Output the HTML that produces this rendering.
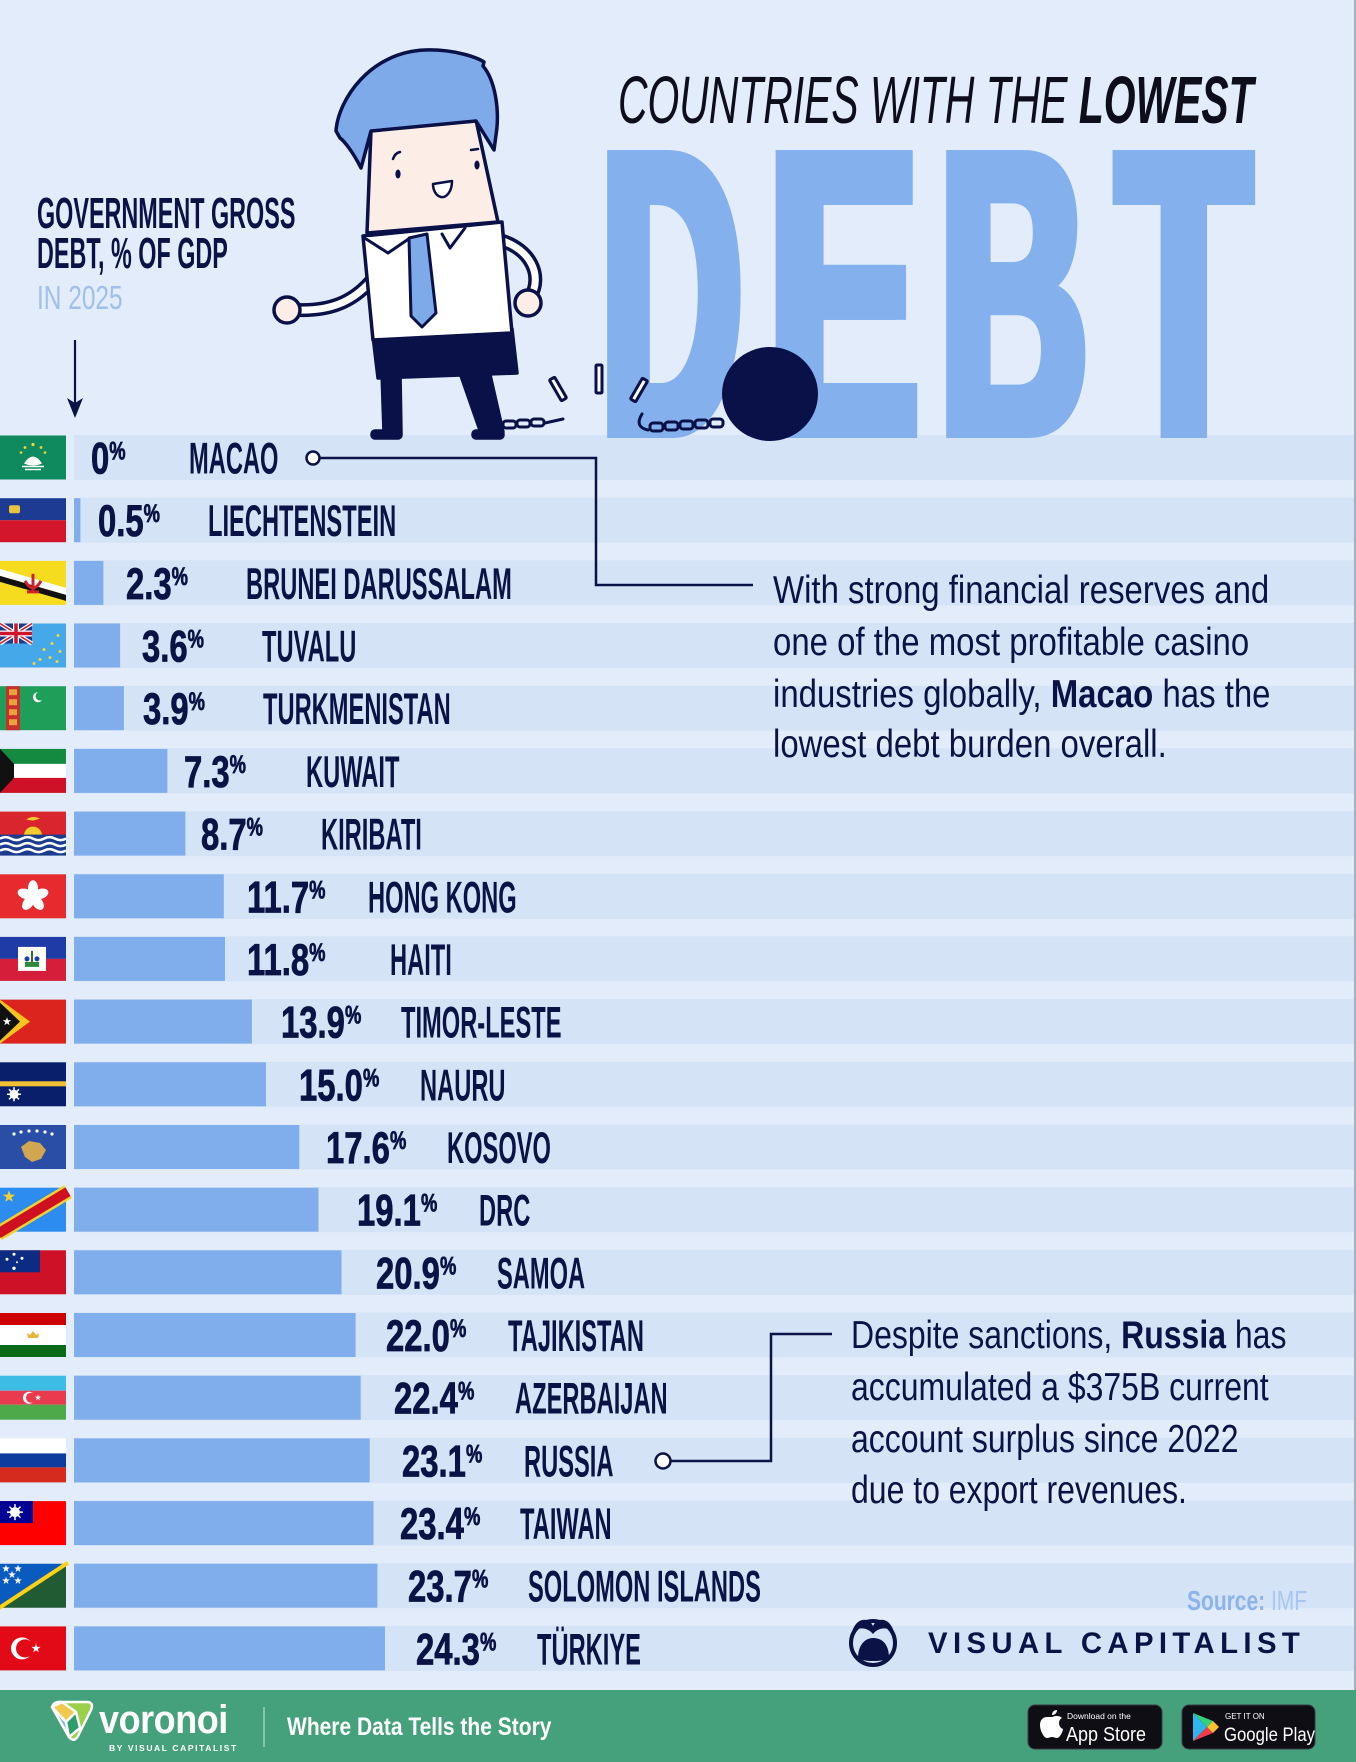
<!DOCTYPE html>
<html><head><meta charset="utf-8"><style>
html,body{margin:0;padding:0;background:#e2ecfa;}
svg{display:block;}
text{font-family:"Liberation Sans",sans-serif;}
.v{font-size:44.7px;font-weight:bold;fill:#0b1245;stroke:#0b1245;stroke-width:0.8px;}
.n{font-size:44.7px;font-weight:bold;fill:#0b1245;}
.a{font-size:39px;fill:#0b1245;}
</style></head><body>
<svg width="1356" height="1762" viewBox="0 0 1356 1762" xmlns="http://www.w3.org/2000/svg">
<defs>
<polygon id="st" points="0,-4 0.94,-1.29 3.8,-1.24 1.52,0.49 2.35,3.24 0,1.6 -2.35,3.24 -1.52,0.49 -3.8,-1.24 -0.94,-1.29"/>
</defs>
<rect width="1356" height="1762" fill="#e2ecfa"/>

<!-- bands -->
<g fill="#d5e3f7">
<rect x="74" y="435" width="1280" height="45"/>
<rect x="74" y="497.7" width="1280" height="45"/>
<rect x="74" y="560.4" width="1280" height="45"/>
<rect x="74" y="623" width="1280" height="45"/>
<rect x="74" y="685.7" width="1280" height="45"/>
<rect x="74" y="748.4" width="1280" height="45"/>
<rect x="74" y="811.1" width="1280" height="45"/>
<rect x="74" y="873.8" width="1280" height="45"/>
<rect x="74" y="936.4" width="1280" height="45"/>
<rect x="74" y="999.1" width="1280" height="45"/>
<rect x="74" y="1061.8" width="1280" height="45"/>
<rect x="74" y="1124.5" width="1280" height="45"/>
<rect x="74" y="1187.2" width="1280" height="45"/>
<rect x="74" y="1249.8" width="1280" height="45"/>
<rect x="74" y="1312.5" width="1280" height="45"/>
<rect x="74" y="1375.2" width="1280" height="45"/>
<rect x="74" y="1437.9" width="1280" height="45"/>
<rect x="74" y="1500.6" width="1280" height="45"/>
<rect x="74" y="1563.2" width="1280" height="45"/>
<rect x="74" y="1625.9" width="1280" height="45"/>
</g>
<rect x="1354" y="0" width="2" height="1690" fill="#a9b0bc"/>

<!-- DEBT -->
<g fill="#85b0ee" stroke="#85b0ee" stroke-width="10" stroke-linejoin="miter" font-size="404" font-weight="bold">
<text transform="translate(596.6,433) scale(0.479,1)">D</text>
<text transform="translate(606.6,433) scale(0.479,1)">D</text>
<text transform="translate(763.4,433) scale(0.556,1)">E</text>
<text transform="translate(773.4,433) scale(0.556,1)">E</text>
<text transform="translate(935.1,433) scale(0.504,1)">B</text>
<text transform="translate(945.1,433) scale(0.504,1)">B</text>
<text transform="translate(1112.8,433) scale(0.535,1)">T</text>
<text transform="translate(1122.8,433) scale(0.535,1)">T</text>
</g>

<!-- Title -->
<text transform="translate(618,123) scale(0.61,1)" font-size="67" font-style="italic" fill="#0d0d1c">COUNTRIES WITH THE <tspan font-weight="bold">LOWEST</tspan></text>

<!-- left label -->
<text transform="translate(37,228) scale(0.54,1)" font-size="43.3" font-weight="bold" fill="#0b1245">GOVERNMENT GROSS</text>
<text transform="translate(37,268) scale(0.54,1)" font-size="43.3" font-weight="bold" fill="#0b1245">DEBT, % OF GDP</text>
<text transform="translate(37,309) scale(0.73,1)" font-size="33.5" fill="#9fbfec">IN 2025</text>
<line x1="75" y1="340" x2="75" y2="405" stroke="#0b1245" stroke-width="2.2"/>
<polygon points="67,398 75,418 83,398 75,403" fill="#0b1245"/>

<!-- character -->
<g stroke="#0a1048" stroke-width="3.5" stroke-linejoin="round" stroke-linecap="round">
<path d="M370,282 C352,302 330,311 298,310" fill="none" stroke-width="14"/>
<path d="M370,282 C352,302 330,311 298,310" fill="none" stroke="#ffffff" stroke-width="7"/>
<path d="M500,240 C532,250 542,276 531,296" fill="none" stroke-width="14"/>
<path d="M500,240 C532,250 542,276 531,296" fill="none" stroke="#ffffff" stroke-width="7"/>
<circle cx="287" cy="310" r="13" fill="#fcede6"/>
<circle cx="528" cy="303" r="13" fill="#fcede6"/>
<polygon points="382,372 400,372 401,433 384,433" fill="#0a1048"/>
<polygon points="459,370 488,366 503,432 481,433" fill="#0a1048"/>
<rect x="372" y="431" width="29" height="7" rx="3" fill="#0a1048"/>
<rect x="473" y="431" width="30" height="7" rx="3" fill="#0a1048"/>
<polygon points="373,336 512,329 517,373 378,378" fill="#0a1048"/>
<polygon points="363,236 502,222 512,333 373,340" fill="#ffffff"/>
<polyline points="363,237 388,253 410,238" fill="#ffffff" stroke-width="3"/>
<polyline points="442,234 450,248 465,228" fill="#ffffff" stroke-width="3"/>
<polygon points="409,238 427,234 436,313 422,327 411,316" fill="#7eaaea" stroke-width="3"/>
<polygon points="371,130 476,120 498,222 367,233" fill="#fcede6"/>
<path d="M336,131 C338,100 370,52 425,50 C455,49 478,58 484,62 L483,66 C495,80 500,110 496,135 L494,150 L476,121 L371,131 L361,168 C352,150 343,140 340,138 Z" fill="#7eaaea"/>
<ellipse cx="398" cy="174" rx="2.6" ry="4.5" fill="#0a1048" stroke="none"/>
<ellipse cx="477" cy="165" rx="2.6" ry="4.5" fill="#0a1048" stroke="none"/>
<path d="M393,159 Q395,153 400,152" fill="none" stroke-width="2.5"/>
<path d="M471,150 L478,149" fill="none" stroke-width="2.5"/>
<path d="M433,184 L452,181 C452,192 446,198 441,197 C436,196 433,190 433,184 Z" fill="#ffffff" stroke-width="2.5"/>
</g>
<g stroke="#0a1048" stroke-width="3" fill="none" stroke-linecap="round">
<rect x="503" y="421" width="13" height="7" rx="3"/>
<rect x="517" y="420" width="13" height="7" rx="3"/>
<rect x="531" y="419" width="13" height="7" rx="3"/>
<path d="M545,423 L563,419"/>
<rect x="555" y="377" width="6" height="24" rx="1" fill="#ffffff" transform="rotate(-30 558 389)"/>
<rect x="596" y="365" width="6" height="28" rx="1" fill="#ffffff"/>
<rect x="636" y="378" width="6" height="24" rx="1" fill="#ffffff" transform="rotate(30 639 390)"/>
<path d="M642,414 Q634,427 648,430"/>
<rect x="650" y="423" width="13" height="8" rx="3"/>
<rect x="665" y="422" width="13" height="8" rx="3"/>
<rect x="680" y="421" width="13" height="8" rx="3"/>
<rect x="695" y="420" width="13" height="8" rx="3"/>
<rect x="710" y="419" width="13" height="8" rx="3"/>
</g>
<ellipse cx="770" cy="394" rx="48" ry="47" fill="#0a1048"/>

<!-- connectors -->
<polyline points="320,458 596,458 596,585 753,585" fill="none" stroke="#0b1245" stroke-width="2.5"/>
<circle cx="313" cy="458" r="6.5" fill="#ffffff" stroke="#0b1245" stroke-width="2.5"/>
<polyline points="671,1461 771,1461 771,1334 832,1334" fill="none" stroke="#0b1245" stroke-width="2.5"/>
<circle cx="663" cy="1461" r="7.5" fill="#ffffff" stroke="#0b1245" stroke-width="2.5"/>

<!-- annotations -->
<text class="a" transform="translate(773,603) scale(0.845,1)">With strong financial reserves and</text>
<text class="a" transform="translate(773,655) scale(0.845,1)">one of the most profitable casino</text>
<text class="a" transform="translate(773,707) scale(0.845,1)">industries globally, <tspan font-weight="bold">Macao</tspan> has the</text>
<text class="a" transform="translate(773,757) scale(0.845,1)">lowest debt burden overall.</text>
<text class="a" transform="translate(851,1348) scale(0.82,1)">Despite sanctions, <tspan font-weight="bold">Russia</tspan> has</text>
<text class="a" transform="translate(851,1400) scale(0.82,1)">accumulated a $375B current</text>
<text class="a" transform="translate(851,1452) scale(0.82,1)">account surplus since 2022</text>
<text class="a" transform="translate(851,1503) scale(0.82,1)">due to export revenues.</text>

<!-- rows -->
<g transform="translate(0,457.5)">
<g transform="translate(0,-22)">
<rect width="66" height="44" fill="#0e8a5e"/>
<path d="M24,28 Q33,14 42,28 Q33,32 24,28Z" fill="#fff"/>
<path d="M22,31 h22 M25,34 h16" stroke="#fff" stroke-width="1.6"/>
<g fill="#f5d33a"><circle cx="33" cy="9" r="1.6"/><circle cx="25" cy="12" r="1.4"/><circle cx="41" cy="12" r="1.4"/><circle cx="21" cy="17" r="1.3"/><circle cx="45" cy="17" r="1.3"/></g>
</g>
<text class="v" transform="translate(91,16) scale(0.735,1)">0<tspan font-size="25" dy="-14">%</tspan></text>
<text class="n" transform="translate(189,16) scale(0.53,1)">MACAO</text>
</g>
<g transform="translate(0,520.2)">
<g transform="translate(0,-22)">
<rect width="66" height="22" fill="#1d3b93"/><rect y="22" width="66" height="22" fill="#d3162b"/><rect x="9" y="7" width="11" height="8" rx="2" fill="#e9c53b"/>
</g>
<rect x="74" y="-22" width="6.4" height="44" fill="#80aeec"/>
<text class="v" transform="translate(98,16) scale(0.735,1)">0.5<tspan font-size="25" dy="-14">%</tspan></text>
<text class="n" transform="translate(208,16) scale(0.53,1)">LIECHTENSTEIN</text>
</g>
<g transform="translate(0,582.9)">
<g transform="translate(0,-22)">
<rect width="66" height="44" fill="#f5dc1e"/><polygon points="0,8 66,27 66,34 0,15" fill="#fff"/><polygon points="0,15 66,34 66,40 0,21" fill="#111"/>
<path d="M25,20 Q33,34 41,20 M33,13 v17 M27,31 h12" stroke="#d0202a" stroke-width="3" fill="none"/>
</g>
<rect x="74" y="-22" width="29.4" height="44" fill="#80aeec"/>
<text class="v" transform="translate(126,16) scale(0.735,1)">2.3<tspan font-size="25" dy="-14">%</tspan></text>
<text class="n" transform="translate(246,16) scale(0.53,1)">BRUNEI DARUSSALAM</text>
</g>
<g transform="translate(0,645.5)">
<g transform="translate(0,-22)">
<rect width="66" height="44" fill="#45a8e8"/>
<rect width="32" height="20" fill="#1f3a8a"/>
<path d="M0,0 L32,20 M32,0 L0,20" stroke="#fff" stroke-width="4"/>
<path d="M0,0 L32,20 M32,0 L0,20" stroke="#cf142b" stroke-width="1.5"/>
<path d="M16,0 V20 M0,10 H32" stroke="#fff" stroke-width="6"/>
<path d="M16,0 V20 M0,10 H32" stroke="#cf142b" stroke-width="3.5"/>
<g fill="#f5d33a"><circle cx="44" cy="26" r="1.5"/><circle cx="52" cy="20" r="1.5"/><circle cx="58" cy="12" r="1.5"/><circle cx="60" cy="28" r="1.5"/><circle cx="40" cy="36" r="1.5"/><circle cx="50" cy="34" r="1.5"/><circle cx="57" cy="38" r="1.5"/><circle cx="34" cy="40" r="1.5"/></g>
</g>
<rect x="74" y="-22" width="46.1" height="44" fill="#80aeec"/>
<text class="v" transform="translate(142,16) scale(0.735,1)">3.6<tspan font-size="25" dy="-14">%</tspan></text>
<text class="n" transform="translate(262,16) scale(0.53,1)">TUVALU</text>
</g>
<g transform="translate(0,708.2)">
<g transform="translate(0,-22)">
<rect width="66" height="44" fill="#1f9e5a"/><rect x="6" width="14" height="44" fill="#c8302e"/>
<g fill="#e8a33a"><rect x="9" y="3" width="8" height="6"/><rect x="9" y="13" width="8" height="6"/><rect x="9" y="23" width="8" height="6"/><rect x="9" y="33" width="8" height="6"/></g>
<circle cx="38" cy="11" r="5" fill="#fff"/><circle cx="40" cy="10" r="4.4" fill="#1f9e5a"/>
</g>
<rect x="74" y="-22" width="49.9" height="44" fill="#80aeec"/>
<text class="v" transform="translate(143,16) scale(0.735,1)">3.9<tspan font-size="25" dy="-14">%</tspan></text>
<text class="n" transform="translate(263,16) scale(0.53,1)">TURKMENISTAN</text>
</g>
<g transform="translate(0,770.9)">
<g transform="translate(0,-22)">
<rect width="66" height="15" fill="#138a3f"/><rect y="15" width="66" height="14" fill="#fff"/><rect y="29" width="66" height="15" fill="#ce1126"/><polygon points="0,0 14,15 14,29 0,44" fill="#111"/>
</g>
<rect x="74" y="-22" width="93.4" height="44" fill="#80aeec"/>
<text class="v" transform="translate(184,16) scale(0.735,1)">7.3<tspan font-size="25" dy="-14">%</tspan></text>
<text class="n" transform="translate(306,16) scale(0.53,1)">KUWAIT</text>
</g>
<g transform="translate(0,833.6)">
<g transform="translate(0,-22)">
<rect width="66" height="24" fill="#d9262e"/><circle cx="33" cy="24" r="9" fill="#f6cc2a"/>
<path d="M26,8 Q33,3 40,7 L33,9Z" fill="#f6cc2a"/>
<rect y="23" width="66" height="21" fill="#1b3c8c"/>
<path d="M0,27 q5.5,-3 11,0 t11,0 t11,0 t11,0 t11,0 t11,0 M0,33 q5.5,-3 11,0 t11,0 t11,0 t11,0 t11,0 t11,0 M0,39 q5.5,-3 11,0 t11,0 t11,0 t11,0 t11,0 t11,0" stroke="#fff" stroke-width="2.5" fill="none"/>
</g>
<rect x="74" y="-22" width="111.4" height="44" fill="#80aeec"/>
<text class="v" transform="translate(201,16) scale(0.735,1)">8.7<tspan font-size="25" dy="-14">%</tspan></text>
<text class="n" transform="translate(321,16) scale(0.53,1)">KIRIBATI</text>
</g>
<g transform="translate(0,896.3)">
<g transform="translate(0,-22)">
<rect width="66" height="44" fill="#e62a2e"/>
<g transform="translate(33,22)" fill="#fff">
<ellipse cx="0" cy="-8" rx="5" ry="8"/>
<ellipse cx="0" cy="-8" rx="5" ry="8" transform="rotate(72)"/>
<ellipse cx="0" cy="-8" rx="5" ry="8" transform="rotate(144)"/>
<ellipse cx="0" cy="-8" rx="5" ry="8" transform="rotate(216)"/>
<ellipse cx="0" cy="-8" rx="5" ry="8" transform="rotate(288)"/>
</g>
</g>
<rect x="74" y="-22" width="149.8" height="44" fill="#80aeec"/>
<text class="v" transform="translate(247,16) scale(0.735,1)">11.7<tspan font-size="25" dy="-14">%</tspan></text>
<text class="n" transform="translate(368,16) scale(0.53,1)">HONG KONG</text>
</g>
<g transform="translate(0,958.9)">
<g transform="translate(0,-22)">
<rect width="66" height="22" fill="#1e3ba6"/><rect y="22" width="66" height="22" fill="#d41e3a"/><rect x="18" y="10" width="28" height="24" fill="#fff"/>
<rect x="25" y="25" width="14" height="5" fill="#2f8a3a"/><rect x="31" y="14" width="2" height="11" fill="#2f6a2a"/><circle cx="27" cy="22" r="2.5" fill="#1e3ba6"/><circle cx="37" cy="22" r="2.5" fill="#1e3ba6"/>
</g>
<rect x="74" y="-22" width="151" height="44" fill="#80aeec"/>
<text class="v" transform="translate(247,16) scale(0.735,1)">11.8<tspan font-size="25" dy="-14">%</tspan></text>
<text class="n" transform="translate(390,16) scale(0.53,1)">HAITI</text>
</g>
<g transform="translate(0,1021.6)">
<g transform="translate(0,-22)">
<rect width="66" height="44" fill="#dc241f"/><polygon points="0,0 30,22 0,44" fill="#f5c51b"/><polygon points="0,3 20,22 0,41" fill="#111"/>
<use href="#st" transform="translate(7,22) scale(1.1)" fill="#fff"/>
</g>
<rect x="74" y="-22" width="177.9" height="44" fill="#80aeec"/>
<text class="v" transform="translate(281,16) scale(0.735,1)">13.9<tspan font-size="25" dy="-14">%</tspan></text>
<text class="n" transform="translate(401,16) scale(0.53,1)">TIMOR-LESTE</text>
</g>
<g transform="translate(0,1084.3)">
<g transform="translate(0,-22)">
<rect width="66" height="44" fill="#0a1f6b"/><rect y="19" width="66" height="5" fill="#f2c033"/>
<circle cx="14" cy="32" r="4.5" fill="#fff"/>
<path d="M14,25 V39 M7,32 H21 M9,27 L19,37 M19,27 L9,37" stroke="#fff" stroke-width="1.5"/>
</g>
<rect x="74" y="-22" width="192" height="44" fill="#80aeec"/>
<text class="v" transform="translate(299,16) scale(0.735,1)">15.0<tspan font-size="25" dy="-14">%</tspan></text>
<text class="n" transform="translate(420,16) scale(0.53,1)">NAURU</text>
</g>
<g transform="translate(0,1147)">
<g transform="translate(0,-22)">
<rect width="66" height="44" fill="#2a4ea6"/>
<path d="M21,22 L29,16 L40,18 L46,25 L41,34 L32,37 L25,32 Z" fill="#d0a650"/>
<g fill="#fff"><circle cx="14" cy="9" r="1.6"/><circle cx="21" cy="7" r="1.6"/><circle cx="29" cy="6" r="1.6"/><circle cx="37" cy="6" r="1.6"/><circle cx="45" cy="7" r="1.6"/><circle cx="52" cy="9" r="1.6"/></g>
</g>
<rect x="74" y="-22" width="225.3" height="44" fill="#80aeec"/>
<text class="v" transform="translate(326,16) scale(0.735,1)">17.6<tspan font-size="25" dy="-14">%</tspan></text>
<text class="n" transform="translate(447,16) scale(0.53,1)">KOSOVO</text>
</g>
<g transform="translate(0,1209.7)">
<g transform="translate(0,-22)">
<rect width="66" height="44" fill="#2d8cf0"/>
<path d="M-2,46 L68,4" stroke="#f5d130" stroke-width="15"/>
<path d="M-2,46 L68,4" stroke="#ce1021" stroke-width="10"/>
<use href="#st" transform="translate(9,9) scale(1.6)" fill="#f5d130"/>
</g>
<rect x="74" y="-22" width="244.5" height="44" fill="#80aeec"/>
<text class="v" transform="translate(357,16) scale(0.735,1)">19.1<tspan font-size="25" dy="-14">%</tspan></text>
<text class="n" transform="translate(479,16) scale(0.53,1)">DRC</text>
</g>
<g transform="translate(0,1272.3)">
<g transform="translate(0,-22)">
<rect width="66" height="44" fill="#ce1126"/><rect width="40" height="22" fill="#0c2c84"/>
<g fill="#fff"><circle cx="14" cy="4" r="1.5"/><circle cx="7" cy="9" r="1.5"/><circle cx="22" cy="8" r="1.5"/><circle cx="17" cy="12" r="1"/><circle cx="14" cy="18" r="1.7"/></g>
</g>
<rect x="74" y="-22" width="267.5" height="44" fill="#80aeec"/>
<text class="v" transform="translate(376,16) scale(0.735,1)">20.9<tspan font-size="25" dy="-14">%</tspan></text>
<text class="n" transform="translate(497,16) scale(0.53,1)">SAMOA</text>
</g>
<g transform="translate(0,1335)">
<g transform="translate(0,-22)">
<rect width="66" height="12" fill="#cc0000"/><rect y="12" width="66" height="20" fill="#fff"/><rect y="32" width="66" height="12" fill="#0a6a1a"/>
<path d="M28,25 h10 l1,-5 l-3,2 l-3,-4 l-3,4 l-3,-2 z" fill="#e7b53a"/>
</g>
<rect x="74" y="-22" width="281.6" height="44" fill="#80aeec"/>
<text class="v" transform="translate(386,16) scale(0.735,1)">22.0<tspan font-size="25" dy="-14">%</tspan></text>
<text class="n" transform="translate(508,16) scale(0.53,1)">TAJIKISTAN</text>
</g>
<g transform="translate(0,1397.7)">
<g transform="translate(0,-22)">
<rect width="66" height="15" fill="#3dbde6"/><rect y="15" width="66" height="14" fill="#e93a4e"/><rect y="29" width="66" height="15" fill="#4da94a"/>
<circle cx="29" cy="22" r="6" fill="#fff"/><circle cx="31" cy="22" r="5" fill="#e93a4e"/>
<use href="#st" transform="translate(38,22) scale(0.8)" fill="#fff"/>
</g>
<rect x="74" y="-22" width="286.7" height="44" fill="#80aeec"/>
<text class="v" transform="translate(394,16) scale(0.735,1)">22.4<tspan font-size="25" dy="-14">%</tspan></text>
<text class="n" transform="translate(515,16) scale(0.53,1)">AZERBAIJAN</text>
</g>
<g transform="translate(0,1460.4)">
<g transform="translate(0,-22)">
<rect width="66" height="15" fill="#ffffff"/><rect y="15" width="66" height="14" fill="#0d3b9e"/><rect y="29" width="66" height="15" fill="#d52b1e"/>
</g>
<rect x="74" y="-22" width="295.7" height="44" fill="#80aeec"/>
<text class="v" transform="translate(402,16) scale(0.735,1)">23.1<tspan font-size="25" dy="-14">%</tspan></text>
<text class="n" transform="translate(524,16) scale(0.53,1)">RUSSIA</text>
</g>
<g transform="translate(0,1523.1)">
<g transform="translate(0,-22)">
<rect width="66" height="44" fill="#fe0000"/><rect width="33" height="22" fill="#000095"/>
<circle cx="15" cy="11" r="5" fill="#fff"/>
<path d="M15,3 V19 M7,11 H23 M9.5,5.5 L20.5,16.5 M20.5,5.5 L9.5,16.5" stroke="#fff" stroke-width="1.5"/>
</g>
<rect x="74" y="-22" width="299.5" height="44" fill="#80aeec"/>
<text class="v" transform="translate(400,16) scale(0.735,1)">23.4<tspan font-size="25" dy="-14">%</tspan></text>
<text class="n" transform="translate(520,16) scale(0.53,1)">TAIWAN</text>
</g>
<g transform="translate(0,1585.7)">
<g transform="translate(0,-22)">
<polygon points="0,0 66,0 0,44" fill="#0a5bbf"/><polygon points="66,0 66,44 0,44" fill="#215b33"/>
<path d="M-2,45 L68,-1" stroke="#fcd116" stroke-width="4"/>
<g fill="#fff"><use href="#st" transform="translate(6,5)"/><use href="#st" transform="translate(18,5)"/><use href="#st" transform="translate(6,17)"/><use href="#st" transform="translate(18,17)"/><use href="#st" transform="translate(12,11)"/></g>
</g>
<rect x="74" y="-22" width="303.4" height="44" fill="#80aeec"/>
<text class="v" transform="translate(408,16) scale(0.735,1)">23.7<tspan font-size="25" dy="-14">%</tspan></text>
<text class="n" transform="translate(528,16) scale(0.53,1)">SOLOMON ISLANDS</text>
</g>
<g transform="translate(0,1648.4)">
<g transform="translate(0,-22)">
<rect width="66" height="44" fill="#e30a17"/>
<circle cx="22" cy="22" r="11" fill="#fff"/><circle cx="25" cy="22" r="9" fill="#e30a17"/>
<use href="#st" transform="translate(36,22) scale(1.2)" fill="#fff"/>
</g>
<rect x="74" y="-22" width="311" height="44" fill="#80aeec"/>
<text class="v" transform="translate(416,16) scale(0.735,1)">24.3<tspan font-size="25" dy="-14">%</tspan></text>
<text class="n" transform="translate(537,16) scale(0.53,1)">TÜRKIYE</text>
</g>

<!-- source & VC logo -->
<text transform="translate(1187,1610) scale(0.75,1)" font-size="28" fill="#8db4e8"><tspan font-weight="bold">Source:</tspan> <tspan fill="#a9c6ef">IMF</tspan></text>
<g>
<circle cx="873" cy="1643" r="22" fill="none" stroke="#0b1245" stroke-width="4"/>
<path d="M852,1632 C856,1618 868,1616 873,1626 C878,1616 890,1618 894,1632 C886,1626 878,1628 873,1634 C868,1628 860,1626 852,1632 Z" fill="#0b1245"/>
<path d="M858,1658 C858,1644 866,1638 873,1638 C882,1638 889,1644 889,1658 C884,1662 862,1662 858,1658 Z" fill="#0b1245"/>
</g>
<text x="928" y="1653" font-size="29.3" font-weight="bold" letter-spacing="5.4" fill="#0b1245">VISUAL CAPITALIST</text>

<!-- footer -->
<rect x="0" y="1690" width="1356" height="72" fill="#45a07c"/>
<g stroke="#ffffff" stroke-width="2.5" stroke-linejoin="round">
<path d="M52,1707 Q54,1701 62,1702 L88,1702 Q94,1703 91,1710 L78,1736 Q74,1743 69,1737 Z" fill="#9ad04a"/>
<path d="M52,1707 L62,1702 L76,1712 L66,1722 Z" fill="#f2c94c"/>
<path d="M52,1707 L66,1722 L69,1737 Z" fill="#7fb7e6"/>
<path d="M66,1722 L76,1712 L80,1728 L69,1737 Z" fill="#2f9d6b"/>
</g>
<text transform="translate(99,1733) scale(0.9,1)" font-size="40" font-weight="bold" fill="#ffffff" letter-spacing="-0.5">voronoi</text>
<text x="109" y="1751" font-size="8.5" font-weight="bold" fill="#ffffff" letter-spacing="1.6">BY VISUAL CAPITALIST</text>
<line x1="264" y1="1707" x2="264" y2="1747" stroke="#ffffff" stroke-opacity="0.5" stroke-width="1.5"/>
<text transform="translate(287,1735) scale(0.84,1)" font-size="25" font-weight="bold" fill="#ffffff">Where Data Tells the Story</text>

<rect x="1028" y="1705" width="134" height="44" rx="7" fill="#0e0e14" stroke="#3a3a44" stroke-width="1"/>
<path d="M1047,1717 C1043,1717 1040,1720 1040,1725 C1040,1731 1044,1738 1047,1738 C1049,1738 1050,1737 1052,1737 C1054,1737 1055,1738 1057,1738 C1060,1738 1063,1731 1063,1729 C1060,1728 1059,1725 1059,1723 C1059,1721 1060,1719 1062,1718 C1060,1716 1058,1716 1056,1716 C1054,1716 1053,1717 1052,1717 C1050,1717 1049,1717 1047,1717 Z M1052,1715 C1052,1712 1054,1710 1057,1710 C1057,1713 1055,1715 1052,1715 Z" fill="#ffffff"/>
<text x="1067" y="1719" font-size="8.5" fill="#ffffff">Download on the</text>
<text transform="translate(1066,1741) scale(0.9,1)" font-size="20" fill="#ffffff">App Store</text>

<rect x="1182" y="1705" width="133" height="44" rx="7" fill="#0e0e14" stroke="#3a3a44" stroke-width="1"/>
<polygon points="1193,1713 1193,1741 1207,1727" fill="#2fb6f0"/>
<polygon points="1193,1713 1207,1727 1213,1721" fill="#34d07a"/>
<polygon points="1193,1741 1207,1727 1213,1733" fill="#f23c4a"/>
<polygon points="1207,1727 1213,1721 1219,1727 1213,1733" fill="#fbc02d"/>
<text x="1225" y="1719" font-size="8" fill="#ffffff">GET IT ON</text>
<text transform="translate(1224,1741) scale(0.88,1)" font-size="19" fill="#ffffff">Google Play</text>
</svg>
</body></html>
